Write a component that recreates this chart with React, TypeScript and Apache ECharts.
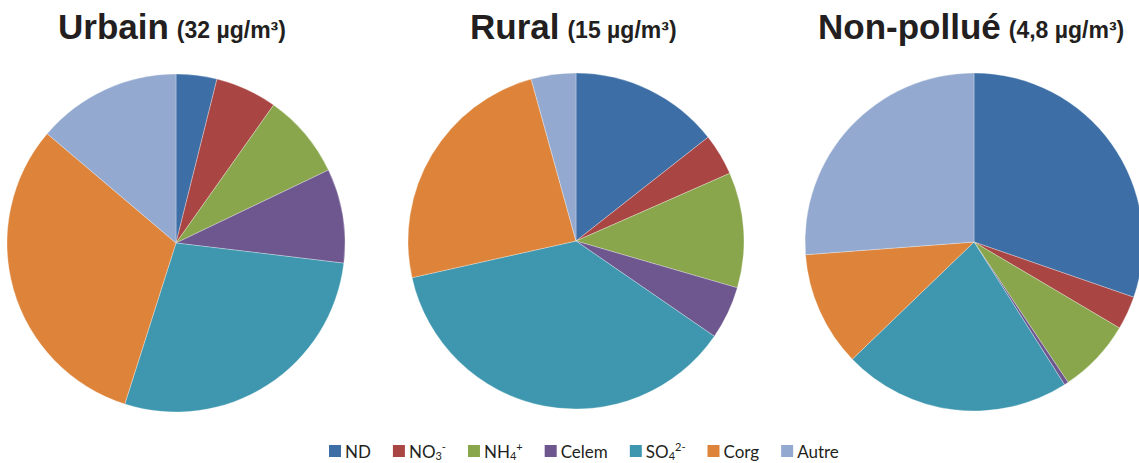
import React, { useEffect, useRef } from "react";
import * as echarts from "echarts";

const categories = ["ND", "NO3", "NH4", "Celem", "SO4", "Corg", "Autre"];
const colors = ["#3D6FA6", "#A94543", "#89A64C", "#6E568F", "#3E97AF", "#DD843A", "#93A9CF"];
const urbainValues = [3.9, 5.9, 8.1, 9.0, 28.0, 31.3, 13.8];
const ruralValues = [14.4, 4.0, 11.1, 5.1, 36.9, 24.2, 4.3];
const nonPollueValues = [30.3, 3.2, 7.1, 0.4, 21.8, 11.0, 26.2];
const titleMain = ["Urbain", "Rural", "Non-pollué"];
const titleSub = ["(32 µg/m³)", "(15 µg/m³)", "(4,8 µg/m³)"];

const legendLabels: Record<string, string> = {
  ND: "ND",
  NO3: "NO{sub|3}{sup|-}",
  NH4: "NH{sub|4}{sup|+}",
  Celem: "Celem",
  SO4: "SO{sub|4}{sup|2-}",
  Corg: "Corg",
  Autre: "Autre",
};

export default function App() {
  const ref = useRef<HTMLDivElement>(null);
  useEffect(() => {
    if (!ref.current) return;
    const chart = echarts.init(ref.current, undefined, { renderer: "svg" });
    const pies = [
      { values: urbainValues, center: [176, 243], r: 169 },
      { values: ruralValues, center: [576, 241], r: 168 },
      { values: nonPollueValues, center: [974, 242], r: 169 },
    ];
    const titleLefts = [53, 465, 813];
    chart.setOption({
      animation: false,
      color: colors,
      title: titleMain.map((t, i) => ({
        text: `{a|${t}} {b|${titleSub[i]}}`,
        left: titleLefts[i],
        top: 4,
        textStyle: {
          rich: {
            a: { fontFamily: "Liberation Sans", fontWeight: "bold", fontSize: 35, color: "#231F20" },
            b: { fontFamily: "Liberation Sans", fontWeight: "bold", fontSize: 23, color: "#231F20", padding: [6, 0, 0, 3] },
          },
        },
      })),
      legend: {
        data: categories,
        top: 441,
        left: 327,
        padding: 0,
        itemWidth: 14,
        itemHeight: 14,
        itemGap: 20,
        icon: "rect",
        formatter: (name: string) => legendLabels[name] ?? name,
        textStyle: {
          fontFamily: "Lato",
          fontSize: 17,
          lineHeight: 20,
          color: "#231F20",
          padding: [0, 0, 0, -2],
          rich: {
            sub: { fontFamily: "Lato", fontSize: 11, lineHeight: 20, color: "#231F20", verticalAlign: "bottom" },
            sup: { fontFamily: "Lato", fontSize: 11, lineHeight: 20, color: "#231F20", verticalAlign: "top" },
          },
        },
      },
      series: pies.map((p) => ({
        type: "pie",
        center: p.center,
        radius: p.r,
        startAngle: 90,
        clockwise: true,
        label: { show: false },
        labelLine: { show: false },
        emphasis: { disabled: true },
        itemStyle: { borderColor: "#ffffff", borderWidth: 0.3 },
        data: categories.map((c, i) => ({ name: c, value: p.values[i] })),
      })),
    });
    return () => chart.dispose();
  }, []);
  return (
    <div
      ref={ref}
      style={{ position: "fixed", left: 0, top: 0, width: 1139, height: 463, background: "#fff" }}
    />
  );
}
